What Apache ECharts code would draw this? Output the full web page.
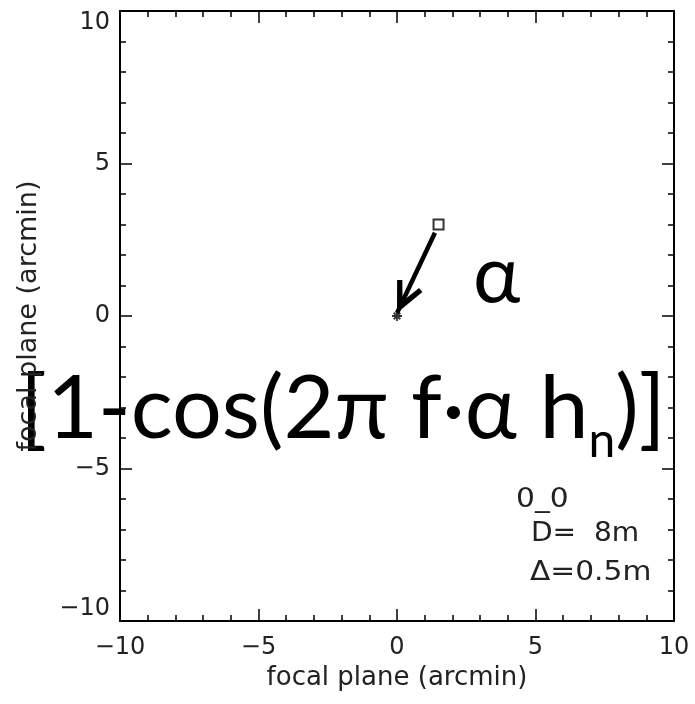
<!DOCTYPE html>
<html>
<head>
<meta charset="utf-8">
<script src="https://cdn.jsdelivr.net/npm/echarts@6/dist/echarts.min.js"></script>
<style>
  html, body { margin: 0; padding: 0; background: #fff; }
  #chart { width: 695px; height: 704px; }
</style>
</head>
<body>
<div id="chart"></div>
<script>
// axis range (arcmin)
const axisMin = -10
const axisMax = 10
const majorStep = 5
// open square: off-axis source position
const sourcePoint = [[1.5, 3]]
// asterisk: focal plane centre
const centrePoint = [[0, 0]]
// arrow from the source towards the centre
const arrowFrom = [1.37, 2.73]
const arrowTo = [0.0, 0.1]
// label box text
const boxLines = ['0_0', 'D=  8m', 'Δ=0.5m']

const chart = echarts.init(document.getElementById('chart'))
const ink = '#000'
const tickFont = 'DejaVu Sans'
const minus = v => String(v).replace('-', '\u2212')

function axisBase(extra) {
  return Object.assign({
    type: 'value',
    min: axisMin,
    max: axisMax,
    interval: majorStep,
    axisLine: { show: true, onZero: false, lineStyle: { color: ink, width: 2 } },
    axisTick: { show: true, inside: true, length: 12, lineStyle: { color: ink, width: 1.5 } },
    minorTick: { show: true, splitNumber: 5, length: 6, lineStyle: { color: ink, width: 1.5 } },
    splitLine: { show: false },
    axisLabel: { show: false }
  }, extra)
}

const asterisk = 'path://M4.1,0h1.8v10h-1.8z M0,4.1h10v1.8h-10z M1.1,2.4L2.4,1.1L8.9,7.6L7.6,8.9z M7.6,1.1L8.9,2.4L2.4,8.9L1.1,7.6z'
const chevron = 'path://M10,0 L20,22 L16.6,23.6 L10,9.5 L3.4,23.6 L0,22 Z'

chart.setOption({
  animation: false,
  backgroundColor: '#fff',
  grid: { left: 120, right: 21, top: 11, bottom: 83, outerBoundsMode: 'none' },
  xAxis: [
    axisBase({
      position: 'bottom',
      name: 'focal plane (arcmin)',
      nameLocation: 'middle',
      nameGap: 32,
      nameTextStyle: { color: '#222', fontSize: 26, fontFamily: tickFont },
      axisLabel: { show: true, color: '#222', fontSize: 24, fontFamily: tickFont, margin: 15, formatter: minus }
    }),
    axisBase({ position: 'top' })
  ],
  yAxis: [
    axisBase({
      position: 'left',
      name: 'focal plane (arcmin)',
      nameLocation: 'middle',
      nameGap: 78,
      nameTextStyle: { color: '#222', fontSize: 27, fontFamily: tickFont },
      axisLabel: {
        show: true, color: '#222', fontSize: 24, fontFamily: tickFont, margin: 10, formatter: minus,
        verticalAlignMinLabel: 'bottom', verticalAlignMaxLabel: 'top'
      }
    }),
    axisBase({ position: 'right' })
  ],
  series: [
    {
      type: 'scatter',
      data: sourcePoint,
      symbol: 'rect',
      symbolSize: 10,
      itemStyle: { color: '#fff', borderColor: ink, borderWidth: 2 },
      emphasis: { disabled: true },
      markLine: {
        silent: true,
        symbol: ['none', chevron],
        symbolSize: [28, 32],
        symbolOffset: [0, [0, 16]],
        label: { show: false },
        lineStyle: { color: ink, width: 4.5, type: 'solid', opacity: 1 },
        data: [[{ coord: arrowFrom }, { coord: arrowTo }]]
      }
    },
    {
      type: 'scatter',
      data: centrePoint,
      symbol: asterisk,
      symbolSize: 10,
      itemStyle: { color: ink },
      emphasis: { disabled: true }
    }
  ],
  graphic: [
    {
      type: 'text',
      left: 473,
      top: 236,
      style: { text: 'α', fill: ink, font: '80px Lato' }
    },
    {
      type: 'text',
      left: 20,
      top: 366,
      style: {
        text: '{a|[1-cos(2π f·α h}{s|n}{a|)]}',
        fill: ink,
        rich: {
          a: { fontSize: 88, fontFamily: 'Lato', fill: ink, lineHeight: 100, verticalAlign: 'middle' },
          s: { fontSize: 48, fontFamily: 'Lato', fill: ink, verticalAlign: 'bottom', lineHeight: 48, padding: [0, 0, -6, 0] }
        }
      }
    },
    {
      type: 'text', left: 516, top: 486, scaleX: 1.1,
      style: { text: boxLines[0], fill: '#222', font: '27px "DejaVu Sans"' }
    },
    {
      type: 'text', left: 531, top: 520, scaleX: 1.04,
      style: { text: boxLines[1], fill: '#222', font: '27px "DejaVu Sans"' }
    },
    {
      type: 'text', left: 530, top: 559, scaleX: 1.1,
      style: { text: boxLines[2], fill: '#222', font: '27px "DejaVu Sans"' }
    }
  ]
})
</script>
</body>
</html>
